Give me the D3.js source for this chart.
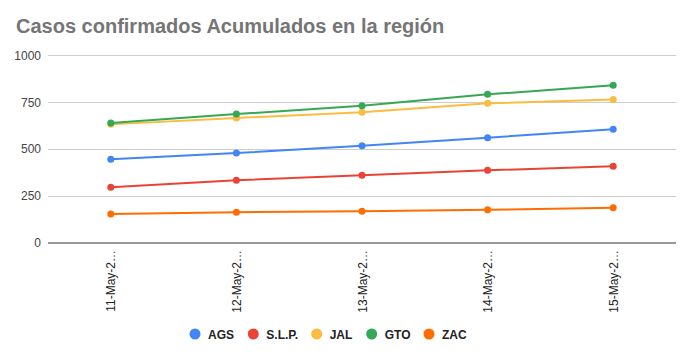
<!DOCTYPE html>
<html><head><meta charset="utf-8">
<script src="https://cdn.jsdelivr.net/npm/d3@7"></script>
<style>body{margin:0;background:#fff}svg{display:block}</style>
</head><body>
<svg id="c" width="684" height="355"></svg>
<script>
const title = "Casos confirmados Acumulados en la región";
const categories = ["11-May-2…","12-May-2…","13-May-2…","14-May-2…","15-May-2…"];
const seriesNames = ["AGS","S.L.P.","JAL","GTO","ZAC"];
const seriesColors = ["#4285F4","#EA4335","#FBBC40","#34A853","#FF6D01"];
const AGS = [446, 479, 518, 561, 606];
const SLP = [297, 334, 361, 387, 409];
const JAL = [632, 666, 696, 744, 765];
const GTO = [639, 687, 731, 792, 840];
const ZAC = [155, 164, 169, 177, 188];
const yTicks = [0, 250, 500, 750, 1000];
const seriesValues = [AGS, SLP, JAL, GTO, ZAC];

const svg = d3.select("#c");
const font = "Arial, 'Liberation Sans', sans-serif";
const x = d3.scalePoint().domain(categories).range([48, 676]).padding(0.5);
const y = d3.scaleLinear().domain([0, 1000]).range([243, 55.3]);

svg.append("text").attr("x", 16).attr("y", 33).attr("font-family", font)
  .attr("font-size", 20).attr("font-weight", "bold").attr("fill", "#757575").text(title);

// gridlines
svg.append("g").selectAll("line").data(yTicks.filter(d => d > 0)).join("line")
  .attr("x1", 48).attr("x2", 676).attr("y1", d => Math.round(y(d)) + 0.5).attr("y2", d => Math.round(y(d)) + 0.5)
  .attr("stroke", "#cccccc").attr("stroke-width", 1);

// y axis labels
const yAxis = d3.axisLeft(y).tickValues(yTicks).tickFormat(d3.format("d")).tickSize(0).tickPadding(0);
const gy = svg.append("g").attr("transform", "translate(41,0)").call(yAxis);
gy.select(".domain").remove();
gy.selectAll("text").attr("font-family", font).attr("font-size", 12).attr("fill", "#444");

// baseline
svg.append("line").attr("x1", 48).attr("x2", 676).attr("y1", y(0)).attr("y2", y(0))
  .attr("stroke", "#333").attr("stroke-width", 1);

// x axis labels
const xAxis = d3.axisBottom(x).tickSize(0).tickPadding(0);
const gx = svg.append("g").attr("transform", "translate(0,243)").call(xAxis);
gx.select(".domain").remove();
gx.selectAll("text").attr("font-family", font).attr("font-size", 12).attr("fill", "#222")
  .attr("text-anchor", "end").attr("dy", null).attr("y", 0)
  .attr("transform", "translate(4,7) rotate(-90)");

// lines & points
const line = d3.line().x((d, i) => x(categories[i])).y(d => y(d));
seriesValues.forEach((vals, s) => {
  svg.append("path").datum(vals).attr("d", line).attr("fill", "none")
    .attr("stroke", seriesColors[s]).attr("stroke-width", 2);
  svg.append("g").selectAll("circle").data(vals).join("circle")
    .attr("cx", (d, i) => x(categories[i])).attr("cy", d => y(d)).attr("r", 3.5)
    .attr("fill", seriesColors[s]);
});

// legend
const legendX = [195, 253.3, 316.7, 371.7, 429];
const lg = svg.append("g");
seriesNames.forEach((n, i) => {
  lg.append("circle").attr("cx", legendX[i]).attr("cy", 334).attr("r", 5.5).attr("fill", seriesColors[i]);
  lg.append("text").attr("x", legendX[i] + 13).attr("y", 338.5).attr("font-family", font)
    .attr("font-size", 12).attr("font-weight", "bold").attr("fill", "#222").text(n);
});
</script>
</body></html>
